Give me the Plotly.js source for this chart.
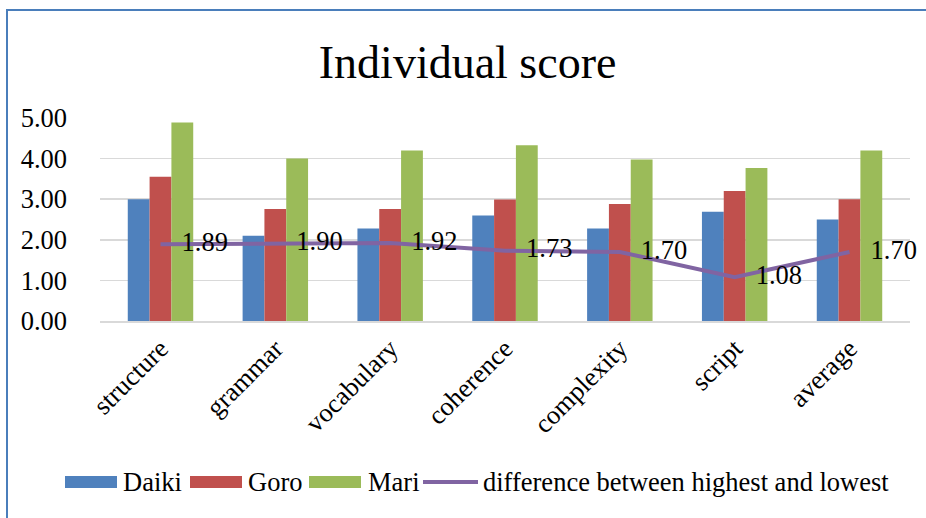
<!DOCTYPE html>
<html>
<head>
<meta charset="utf-8">
<script src="https://cdn.plot.ly/plotly-3.0.1.min.js"></script>
<style>
  html, body { margin: 0; padding: 0; background: #fff; }
  #wrap { position: relative; width: 926px; height: 518px; overflow: hidden; }
  #chart { position: absolute; left: 0; top: 0; width: 926px; height: 518px; }
  #frame { position: absolute; left: 6px; top: 9px; width: 940px; height: 540px;
           border-left: 2px solid #4a7ebb; border-top: 2px solid #4a7ebb; pointer-events: none; }
</style>
</head>
<body>
<div id="wrap">
  <div id="chart"></div>
  <div id="frame"></div>
</div>
<script>
const categories = ["structure", "grammar", "vocabulary", "coherence", "complexity", "script", "average"];
const daiki = [3.00, 2.10, 2.28, 2.60, 2.28, 2.69, 2.50];
const goro  = [3.55, 2.76, 2.76, 2.99, 2.88, 3.20, 3.00];
const mari  = [4.89, 4.00, 4.20, 4.33, 3.98, 3.77, 4.20];
const diff  = [1.89, 1.90, 1.92, 1.73, 1.70, 1.08, 1.70];
const seriesNames = ["Daiki", "Goro", "Mari", "difference between highest and lowest"];
const seriesColors = ["#4F81BD", "#C0504D", "#9BBB59", "#8064A2"];
const yTicks = [0, 1, 2, 3, 4, 5];

const FONT = "'Liberation Serif', 'Times New Roman', serif";
const FS = 26.5;

// plot area in pixels (for paper-coordinate conversion of the custom legend)
const W = 926, H = 518, ML = 100, MR = 16, MT = 118, MB = 197;
const PW = W - ML - MR, PH = H - MT - MB;
const px = v => (v - ML) / PW;
const py = v => (H - MB - v) / PH;

const traces = [
  { type: "bar", name: seriesNames[0], x: categories, y: daiki, marker: { color: seriesColors[0] } },
  { type: "bar", name: seriesNames[1], x: categories, y: goro,  marker: { color: seriesColors[1] } },
  { type: "bar", name: seriesNames[2], x: categories, y: mari,  marker: { color: seriesColors[2] } },
  { type: "scatter", mode: "lines+markers+text", name: seriesNames[3], x: categories, y: diff,
    line: { color: seriesColors[3], width: 4 },
    marker: { size: 32, opacity: 0, color: seriesColors[3] },
    cliponaxis: false,
    text: diff.map(v => v.toFixed(2)), textposition: "middle right",
    textfont: { family: FONT, size: FS, color: "#000" } }
];

// custom legend (Excel style long swatches)
const legSwatchX = [65, 190, 309, 423];
const legTextX   = [121, 246, 366, 481];
const legY = 482;
const shapes = [];
const annotations = [];
seriesNames.forEach((name, i) => {
  if (i < 3) {
    shapes.push({ type: "rect", xref: "paper", yref: "paper",
      x0: px(legSwatchX[i]), x1: px(legSwatchX[i] + 52), y0: py(legY - 6), y1: py(legY + 6),
      fillcolor: seriesColors[i], line: { width: 0 } });
  } else {
    shapes.push({ type: "line", xref: "paper", yref: "paper",
      x0: px(legSwatchX[i]), x1: px(legSwatchX[i] + 55), y0: py(legY), y1: py(legY),
      line: { color: seriesColors[i], width: 4 } });
  }
  annotations.push({ xref: "paper", yref: "paper", x: px(legTextX[i]), y: py(legY),
    xanchor: "left", yanchor: "middle", showarrow: false, text: name,
    font: { family: FONT, size: FS, color: "#000" } });
});

const layout = {
  width: W, height: H,
  margin: { l: ML, r: MR, t: MT, b: MB },
  paper_bgcolor: "#fff", plot_bgcolor: "#fff",
  font: { family: FONT, size: FS, color: "#000" },
  title: { text: "Individual score", font: { family: FONT, size: 46, color: "#000" },
           x: 0.505, xanchor: "center", y: 1 - 62/518, yanchor: "middle", yref: "container" },
  barmode: "group", bargap: 0.43, bargroupgap: 0,
  showlegend: false,
  shapes: shapes,
  annotations: annotations,
  xaxis: { type: "category", tickangle: -45, showgrid: false, showline: true, linecolor: "#d9d9d9",
           linewidth: 1.5, ticks: "", tickfont: { family: FONT, size: FS }, fixedrange: true },
  yaxis: { range: [0, 5], tickvals: yTicks, ticktext: yTicks.map(v => v.toFixed(2)),
           showgrid: true, gridcolor: "#d9d9d9", gridwidth: 1.5, zeroline: false, showline: false,
           ticks: "", ticklabelstandoff: 32, tickfont: { family: FONT, size: FS }, fixedrange: true }
};

Plotly.newPlot("chart", traces, layout, { staticPlot: true, displayModeBar: false });
</script>
</body>
</html>
